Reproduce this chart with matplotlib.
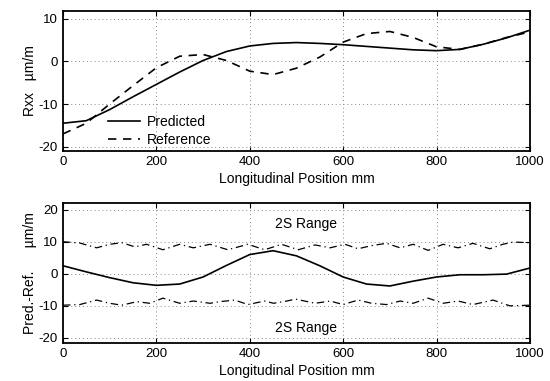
import matplotlib
matplotlib.use('Agg')
import matplotlib.pyplot as plt

plt.rcParams['font.family'] = ['Liberation Sans', 'DejaVu Sans']
plt.rcParams['axes.unicode_minus'] = False

# top panel: Rxx along the length
pos = [0, 50, 100, 150, 200, 250, 300, 350, 400, 450, 500, 550, 600, 650, 700, 750, 800, 850, 900, 950, 1000]
predicted = [-14.5, -13.9, -11.3, -8.3, -5.4, -2.5, 0.2, 2.3, 3.6, 4.2, 4.4, 4.2, 3.9, 3.5, 3.1, 2.7, 2.5, 2.8, 4.0, 5.5, 7.3]
reference = [-17.0, -14.5, -10.0, -5.7, -1.5, 1.2, 1.6, 0.2, -2.3, -3.1, -1.6, 1.0, 4.5, 6.5, 7.0, 5.6, 3.4, 2.8, 4.0, 5.6, 6.9]

# bottom panel: difference and 2S band
diff = [2.5, 0.6, -1.2, -2.8, -3.6, -3.2, -1.0, 2.6, 6.0, 7.2, 5.6, 2.5, -1.0, -3.2, -3.8, -2.3, -1.0, -0.3, -0.3, -0.1, 1.8]

band_up_x = [0, 36, 72, 100, 126, 154, 179, 214, 250, 279, 315, 353, 396, 432, 468, 504,
             540, 572, 604, 632, 661, 693, 722, 750, 782, 814, 846, 878, 914, 942, 964, 1000]
band_up = [10.0, 9.6, 8.1, 9.2, 9.7, 8.4, 9.2, 7.5, 9.2, 8.1, 9.2, 7.5, 9.2, 7.5, 9.2, 7.5,
           9.0, 8.1, 9.2, 7.8, 8.8, 9.5, 8.1, 9.2, 7.3, 9.2, 8.1, 9.5, 7.8, 9.2, 9.9, 9.7]
band_lo_x = [0, 36, 72, 100, 126, 158, 186, 214, 250, 279, 315, 336, 368, 396, 432, 451, 479,
             498, 540, 572, 600, 632, 661, 693, 722, 750, 782, 814, 846, 878, 921, 957, 1000]
band_lo = [-9.8, -9.6, -8.2, -9.2, -9.8, -8.7, -9.2, -7.6, -9.2, -8.5, -9.2, -8.7, -8.2, -9.6, -8.5, -9.2, -8.5,
           -7.9, -9.2, -8.5, -9.6, -8.2, -9.2, -9.6, -8.5, -9.2, -7.6, -9.2, -8.5, -9.6, -8.2, -10.0, -9.8]

xticks = [0, 200, 400, 600, 800, 1000]

fig = plt.figure(figsize=(5.5, 3.81), dpi=100)
ax1 = fig.add_axes([0.1145, 0.6037, 0.849, 0.3675])
ax2 = fig.add_axes([0.1145, 0.1005, 0.849, 0.366])


def style(ax, yticks):
    ax.set_xlim(0, 1000)
    ax.set_xticks(xticks)
    ax.set_yticks(yticks)
    ax.grid(True, linestyle=(0, (1, 3)), color='#888888', linewidth=0.7)
    ax.tick_params(direction='in', top=True, right=True, length=3.5, labelsize=9.5, width=0.8)
    for s in ax.spines.values():
        s.set_linewidth(1.3)
    ax.set_xlabel('Longitudinal Position mm', fontsize=10, labelpad=3)


ax1.plot(pos, predicted, color='black', linewidth=1.2, label='Predicted')
ax1.plot(pos, reference, color='black', linewidth=1.2, linestyle=(0, (5, 4)), label='Reference')
ax1.set_ylim(-21, 11.8)
style(ax1, [-20, -10, 0, 10])
ax1.set_ylabel('Rxx   \u00b5m/m', fontsize=10, labelpad=1)
ax1.legend(loc='lower left', bbox_to_anchor=(0.07, -0.06), frameon=False, fontsize=10,
           handlelength=2.3, handletextpad=0.5, labelspacing=0.3)

ax2.plot(pos, diff, color='black', linewidth=1.2)
ax2.plot(band_up_x, band_up, color='black', linewidth=0.9, linestyle=(0, (6, 3, 1, 3)))
ax2.plot(band_lo_x, band_lo, color='black', linewidth=0.9, linestyle=(0, (6, 3, 1, 3)))
ax2.text(520, 15.6, '2S Range', ha='center', va='center', fontsize=10)
ax2.text(520, -16.9, '2S Range', ha='center', va='center', fontsize=10)
ax2.set_ylim(-21.5, 22)
style(ax2, [-20, -10, 0, 10, 20])
ax2.set_ylabel('Pred.-Ref.      \u00b5m/m', fontsize=10, labelpad=1)

fig.savefig('out.png', dpi=100)
